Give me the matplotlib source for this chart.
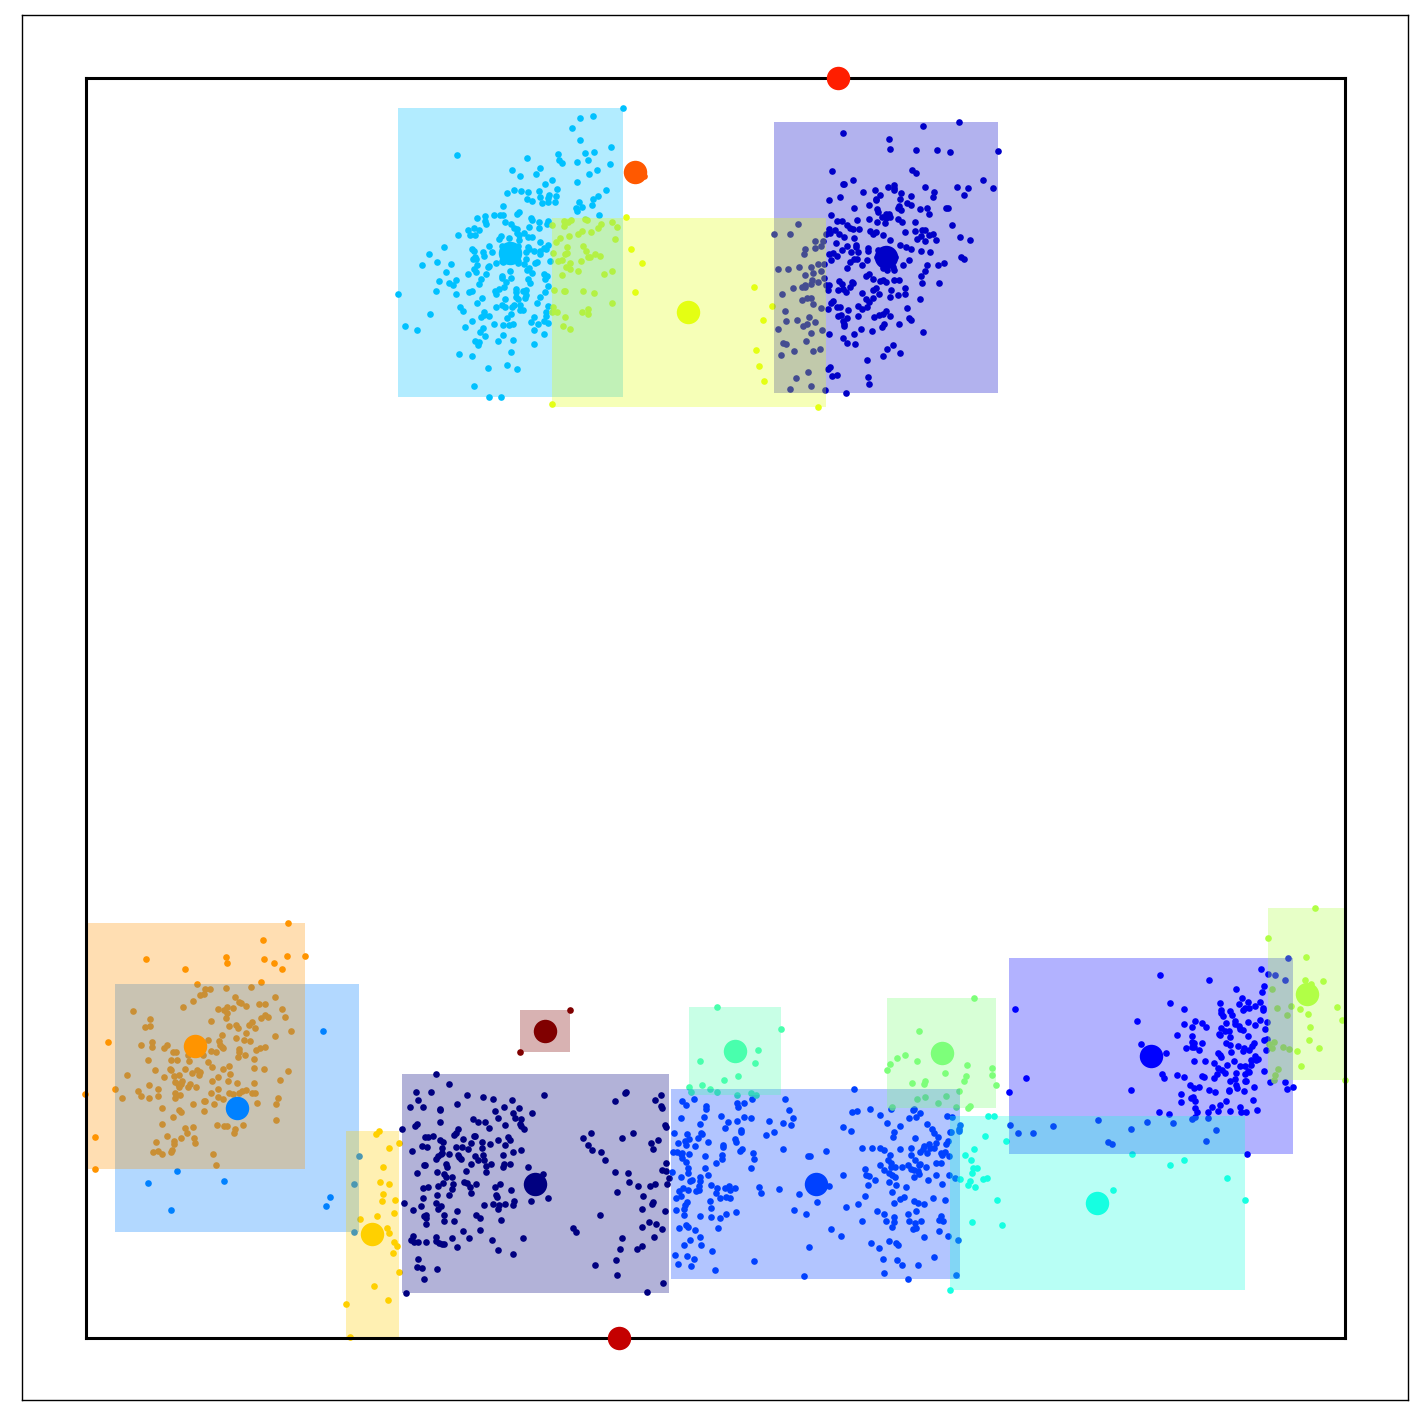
import numpy as np
import matplotlib
matplotlib.use("Agg")
import matplotlib.pyplot as plt
from matplotlib.patches import Rectangle

# point readings, grouped by the part of the picture they were read from (3x units)
pts_sky = [(700,40),(571,70),(610,64),(547,100),(571,136),(664,157),(202,181),(412,190),(505,178),(508,196),(517,205),(562,202),(586,175),(613,172),(595,196),(661,208),(622,226),(598,238),(367,226),(451,220),(439,238),(391,244),(487,256),(466,268),(562,262),(502,283),(448,289),(352,295),(373,286),(394,289),(415,292),(649,286),(625,304),(610,313),(451,307),(478,301),(499,304),(412,313),(427,319),(457,325),(475,310),(475,322),(496,322),(568,322),(607,331),(577,337),(559,340),(562,349),(340,334),(388,352),(382,358),(313,361),(331,361),(340,361),(286,364),(262,370),(286,379),(289,388),(424,370),(427,376),(346,382),(364,388),(448,382),(475,379),(472,388),(628,361),(418,397),(448,400),(253,400),(235,406),(268,406),(241,421),(256,421),(205,421),(373,400),(382,403),(382,415),(403,415),(388,421),(415,427),(427,427),(388,436),(334,424),(328,433),(358,430),(451,442),(298,454),(163,457),(475,451),(247,463),(253,469),(307,472),(280,472),(283,484),(433,469),(451,469),(451,478),(463,460),(469,463),(415,457),(418,463),(409,472),(118,478),(409,493),(481,499),(256,487),(250,493),(259,493),(142,502),(97,511),(184,508),(319,505),(340,502),(385,505),(403,508),(436,505),(442,502),(262,511),(298,514),(295,517),(253,523),(259,532),(418,520),(412,526),(427,535),(361,529),(169,532),(235,538),(289,538),(463,538),(472,544),(337,544),(337,550),(364,550),(415,553),(466,553),(274,553),(199,556),(148,559),(178,565),(190,571),(268,568),(349,562),(421,565),(343,577),(475,574),(328,583),(316,589),(319,598),(379,583),(379,590),(400,589),(409,586),(409,601),(466,592),(139,589),(238,592),(247,589),(199,598),(25,598),(406,610),(451,607),(277,610),(346,613),(379,607),(385,613),(262,625),(442,625),(337,631),(346,637),(319,637),(211,637),(220,649),(367,637),(373,631),(391,631),(391,646),(400,646),(475,634),(469,652),(469,664),(283,652),(283,661),(298,664),(274,667),(364,658),(352,670),(433,667),(121,658),(247,679),(424,682),(445,688),(463,679),(475,685),(313,688),(340,691),(358,691),(370,688),(226,697),(46,694),(82,706),(280,700),(271,712),(433,706),(463,718),(286,724),(340,721),(370,736),(325,739),(256,739),(268,742),(265,751),(433,748),(208,778),(247,784),(364,772),(295,820),(352,811),(382,823),(253,874),(298,907),(334,907),(337,453),(385,453),(337,497),(385,497)]
pts_yellow_a = [(709,367),(523,379),(544,376),(535,382),(523,394),(586,373),(592,376),(487,391),(634,388),(667,382),(682,397),(625,400),(577,409),(565,418),(604,412),(499,442),(511,430),(538,424),(676,433),(532,457),(580,454),(724,463),(589,469),(490,475),(532,475),(526,478),(616,478),(631,484),(595,487),(601,487),(505,499),(517,496),(574,499),(541,505),(529,517),(541,523),(565,529),(667,529),(517,541),(643,538),(493,586),(523,589),(526,589),(580,589),(613,595),(736,592),(667,625),(490,637),(487,652),(502,652),(595,643),(577,652),(595,658),(526,667),(520,694),(541,703),(487,926)]
pts_yellow_b = [(67,610),(403,682),(457,739),(430,781),(407,871),(418,919),(433,964),(595,1042)]
pts_deep = [(1018,187),(910,199),(670,220),(808,238),(811,268),(889,271),(952,271),(991,277),(1135,274),(877,331),(889,340),(637,334),(1090,361),(700,361),(670,373),(673,373),(805,382),(823,376),(823,385),(823,391),(916,382),(1012,382),(1045,385),(1120,385),(730,397),(766,391),(844,400),(943,397),(1033,406),(781,406),(769,418),(769,421),(628,421),(661,412),(841,418),(874,409),(940,412),(862,430),(874,436),(748,436),(838,439),(835,445),(844,451),(703,445),(772,448),(775,457),(901,448),(922,445),(928,463),(979,445),(985,445),(634,466),(787,472),(799,463),(808,463),(811,472),(799,475),(652,484),(667,484),(712,481),(748,478),(772,487),(796,490),(835,478),(847,487),(886,487),(997,496),(535,493),(682,496),(691,505),(700,508),(718,508),(628,508),(646,511),(463,523),(511,523),(619,523),(631,520),(658,523),(673,532),(703,535),(751,514),(760,523),(769,517),(790,526),(856,517),(886,514),(907,511),(916,511),(904,529),(892,538),(916,544),(928,526),(940,523),(949,541),(1021,532),(1051,541),(586,544),(610,544),(649,550),(811,541),(604,559),(586,565),(556,568),(553,583),(667,571),(682,559),(709,556),(709,562),(694,577),(715,577),(745,565),(745,574),(841,556),(859,562),(874,568),(904,574),(931,577),(628,583),(640,580),(634,601),(652,589),(712,598),(703,598),(691,607),(742,601),(1024,592),(1033,598),(868,601),(973,610),(955,616),(922,616),(850,616),(727,616),(595,613),(613,613),(682,625),(475,628),(505,628),(538,622),(574,622),(823,631),(604,634),(580,640),(556,646),(916,634),(904,649),(748,643),(739,649),(760,658),(613,655),(658,664),(667,673),(697,667),(700,670),(781,664),(790,661),(799,667),(823,661),(838,661),(907,670),(958,670),(595,667),(577,661),(574,673),(556,676),(547,682),(556,682),(520,685),(619,676),(628,676),(625,691),(655,691),(670,688),(679,697),(691,682),(769,685),(760,691),(814,691),(856,685),(487,703),(727,700),(778,703),(835,706),(856,703),(811,712),(547,721),(562,715),(574,715),(739,718),(760,715),(901,718),(640,724),(634,730),(580,733),(748,727),(604,745),(625,748),(652,742),(661,742),(715,739),(727,748),(685,751),(742,742),(862,745),(496,754),(799,754),(790,763),(778,766),(763,772),(655,769),(664,766),(682,775),(715,769),(811,769),(868,775),(874,781),(568,772),(532,781),(499,784),(586,787),(670,784),(673,793),(673,799),(562,793),(550,799),(838,793),(793,793),(787,802),(475,808),(607,811),(724,808),(757,814),(910,817),(574,820),(628,823),(703,823),(670,835),(559,844),(682,850),(706,853),(490,850),(499,853),(820,856),(802,868),(601,868),(580,874),(523,874),(841,880),(484,886),(790,889),(742,901),(631,922),(625,928),(565,937),(637,949),(652,946),(529,955),(745,952),(748,973),(574,979),(511,988),(616,991),(679,1000),(770,590),(825,590),(775,570),(820,620),(800,630),(790,625)]
pts_redorange = [(72,349),(50,335)]
pts_orange = [(625,25),(550,76),(199,133),(439,127),(442,145),(553,133),(622,124),(676,124),(583,145),(607,163),(316,163),(544,202),(352,208),(514,217),(439,220),(376,223),(391,223),(361,241),(373,238),(466,247),(586,247),(340,259),(478,262),(484,265),(499,274),(538,268),(556,268),(310,277),(415,283),(433,286),(442,277),(460,280),(607,283),(160,289),(442,295),(439,310),(544,310),(556,301),(565,307),(616,307),(211,313),(394,319),(517,322),(508,331),(196,337),(211,334),(448,334),(469,331),(475,340),(526,340),(634,349),(499,355),(427,361),(586,364),(469,370),(85,382),(385,376),(418,379),(493,376),(511,379),(217,382),(184,391),(217,397),(262,391),(253,400),(421,391),(427,397),(430,400),(556,397),(541,400),(529,406),(478,403),(478,412),(280,412),(289,412),(394,409),(409,412),(496,421),(475,427),(325,421),(370,421),(205,436),(274,436),(292,436),(328,439),(385,442),(523,433),(397,457),(448,454),(271,463),(274,466),(316,463),(226,466),(430,463),(523,460),(553,463),(625,469),(352,466),(361,472),(337,475),(358,481),(451,478),(142,481),(253,487),(283,484),(298,481),(415,487),(601,496),(286,502),(307,499),(397,499),(445,499),(472,505),(523,505),(208,511),(295,508),(304,508),(298,517),(331,508),(325,517),(349,517),(106,523),(235,523),(175,529),(415,523),(16,538),(499,526),(487,529),(478,535),(448,535),(460,538),(394,535),(286,535),(301,541),(517,535),(526,535),(184,544),(235,544),(208,550),(286,550),(415,547),(430,553),(127,550),(595,550),(373,559),(376,559),(340,568),(403,568),(532,565),(589,568),(247,580),(298,586),(304,592),(373,589),(280,607),(589,616),(247,628),(412,631),(433,634),(442,634),(490,631),(316,640),(340,637),(466,643),(463,655),(322,655),(262,664),(304,670),(343,670),(46,667),(229,682),(283,679),(283,688),(346,685),(220,712),(235,709),(247,718),(277,706),(274,712),(400,718),(409,751),(46,763)]
pts_azure = [(730,349),(838,724),(292,769),(433,799),(205,805),(823,808),(751,847),(739,874),(274,886),(823,952)]
pts_gold = [(898,649),(889,658),(958,685),(928,700),(910,757),(901,802),(928,808),(910,838),(907,859),(946,856),(943,895),(892,904),(841,913),(922,940),(928,955),(943,982),(952,994),(940,1015),(958,1072),(883,1114),(799,1168),(925,1156),(811,1267)]
pts_navy = [(124,223),(163,253),(64,277),(109,277),(217,286),(265,292),(295,298),(352,301),(448,286),(70,301),(46,322),(85,322),(136,328),(136,331),(187,313),(328,322),(373,325),(301,334),(355,340),(412,340),(310,355),(361,355),(379,358),(235,358),(250,367),(271,367),(136,367),(67,373),(61,379),(331,376),(376,373),(379,379),(388,388),(283,385),(22,388),(190,388),(184,400),(178,406),(115,409),(91,412),(100,412),(238,409),(241,409),(340,411),(205,418),(346,421),(310,421),(136,421),(145,427),(229,430),(262,427),(286,433),(331,436),(82,439),(97,442),(142,445),(184,442),(202,442),(220,448),(262,445),(52,454),(142,460),(355,457),(379,451),(139,463),(163,463),(130,469),(190,466),(241,469),(265,466),(325,466),(124,478),(193,472),(199,478),(250,481),(268,481),(88,496),(91,496),(154,493),(157,502),(229,493),(289,493),(274,499),(328,493),(325,502),(346,493),(400,502),(214,514),(274,517),(67,520),(127,517),(148,523),(154,532),(172,532),(445,523),(208,547),(217,550),(145,550),(175,553),(244,553),(226,562),(130,559),(85,565),(100,562),(172,568),(301,562),(316,553),(349,571),(127,586),(163,586),(229,580),(304,586),(307,592),(85,595),(460,595),(28,610),(124,610),(137,619),(79,619),(130,628),(268,616),(295,613),(313,616),(331,613),(355,616),(358,604),(409,604),(310,628),(55,631),(187,634),(88,649),(94,646),(148,646),(94,655),(244,646),(256,655),(148,664),(178,664),(319,661),(94,673),(205,694),(256,691),(55,709),(49,721),(58,727),(70,727),(94,727),(124,712),(124,724),(133,730),(142,733),(148,733),(172,715),(223,715),(292,721),(385,715),(187,742),(310,751),(355,763),(70,778),(67,802),(82,805),(127,808),(88,838),(34,880),(694,277),(691,280),(661,304),(799,286),(781,301),(799,319),(802,325),(811,376),(814,382),(589,400),(565,415),(715,400),(682,415),(790,421),(769,430),(580,436),(592,451),(775,448),(619,457),(631,481),(814,490),(802,511),(814,514),(661,517),(700,520),(823,535),(703,547),(730,559),(766,559),(781,553),(817,553),(667,577),(745,589),(775,607),(772,613),(742,628),(811,634),(616,646),(763,667),(784,673),(742,682),(802,688),(535,685),(544,697),(778,712),(682,715),(742,739),(727,748),(676,748),(664,781),(601,796),(667,826),(805,850),(757,877)]
pts_maroon = [(526,31),(376,157)]
pts_cobalt = [(568,298),(88,328),(52,334),(64,346),(122,349),(122,358),(217,340),(220,352),(238,340),(262,328),(361,328),(373,361),(616,358),(562,367),(577,364),(646,376),(169,379),(118,382),(49,385),(238,382),(259,385),(385,385),(190,397),(217,394),(313,394),(355,400),(379,406),(106,403),(181,415),(535,412),(559,424),(667,400),(706,409),(679,358),(748,358),(745,361),(766,370),(754,382),(733,385),(847,379),(862,382),(787,403),(802,418),(808,430),(820,442),(885,406),(883,418),(883,424),(856,427),(859,427),(229,421),(229,427),(328,427),(304,436),(688,427),(685,442),(751,445),(28,430),(67,433),(109,430),(112,433),(100,445),(73,448),(61,454),(40,460),(64,466),(91,469),(130,457),(211,448),(214,457),(175,466),(175,472),(355,478),(592,475),(622,475),(646,475),(658,481),(706,478),(739,475),(778,469),(775,478),(793,463),(796,475),(808,475),(814,460),(850,454),(844,463),(766,487),(787,490),(739,496),(676,496),(484,484),(25,487),(37,487),(52,490),(49,493),(73,493),(52,505),(121,499),(172,496),(172,508),(232,478),(226,484),(265,490),(268,508),(430,499),(436,499),(829,490),(832,496),(841,487),(853,499),(64,517),(154,520),(751,511),(670,511),(679,520),(646,526),(679,532),(691,532),(712,532),(730,526),(763,526),(766,523),(784,532),(814,520),(829,520),(70,535),(121,535),(259,535),(601,538),(658,541),(739,538),(748,541),(22,547),(70,550),(130,556),(49,562),(106,562),(604,556),(613,559),(535,556),(673,550),(682,556),(691,562),(760,544),(763,553),(748,562),(814,556),(853,556),(869,565),(76,574),(82,571),(106,574),(631,571),(673,577),(790,571),(139,586),(610,586),(694,586),(724,592),(832,583),(493,589),(55,595),(43,604),(70,601),(94,604),(103,589),(103,601),(157,595),(154,610),(181,595),(193,589),(196,601),(211,595),(283,592),(343,598),(289,610),(403,613),(682,607),(49,619),(34,625),(166,625),(184,622),(196,625),(601,619),(706,628),(718,622),(136,634),(457,637),(67,637),(61,646),(748,634),(760,640),(778,643),(805,625),(841,631),(688,640),(580,643),(58,658),(34,661),(139,655),(544,652),(388,661),(637,664),(754,664),(214,667),(184,673),(424,673),(58,676),(106,679),(139,682),(166,685),(658,673),(688,682),(730,673),(829,679),(688,697),(664,694),(592,694),(733,694),(769,694),(751,700),(823,691),(835,694),(64,706),(70,712),(43,715),(160,715),(91,721),(499,718),(682,712),(745,718),(754,715),(823,724),(106,742),(529,739),(850,739),(778,742),(880,751),(76,751),(58,766),(109,766),(619,760),(673,754),(694,760),(700,766),(433,772),(643,775),(142,784),(31,796),(67,799),(88,808),(655,808),(697,811),(808,802),(268,814),(40,823),(79,829),(712,826),(760,826),(151,841),(658,850),(874,856),(418,859),(730,868)]
pts_mint = [(157,52),(349,118),(280,181),(106,214),(271,220),(220,259),(178,271),(112,286),(73,292),(136,298),(157,307),(79,307),(259,310),(274,316),(217,316)]
pts_green_a = [(763,124),(721,196),(697,205),(676,223),(667,241),(757,214),(841,250),(742,280),(781,274),(778,283),(883,304),(757,328),(781,322),(844,319),(820,340),(682,352),(874,352)]
pts_green_b = [(88,295),(67,496),(142,505),(142,526),(64,529),(58,544),(154,556),(76,617),(70,625)]
pts_blue = [(646,226),(793,241),(949,208),(970,223),(991,226),(1021,241),(1030,175),(958,259),(874,268),(952,277),(211,328),(676,310),(718,328),(826,310),(892,295),(883,313),(909,307),(946,307),(931,319),(955,325),(955,331),(829,331),(829,340),(835,349),(856,334),(862,346),(895,331),(901,325),(913,325),(577,364),(718,373),(751,364),(772,370),(742,382),(784,382),(844,370),(871,364),(871,373),(910,367),(931,376),(946,361),(967,367),(829,385),(841,394),(853,394),(883,379),(886,388),(895,391),(961,388),(697,406),(742,409),(823,403),(826,406),(856,412),(910,409),(958,421),(967,418),(742,427),(748,430),(772,430),(844,430),(856,436),(880,439),(928,430),(922,439),(589,433),(724,445),(742,442),(748,442),(763,451),(898,445),(895,454),(913,451),(964,451),(664,460),(859,457),(820,460),(826,466),(829,472),(931,469),(940,478),(934,481),(919,481),(748,484),(781,484),(808,490),(868,484),(847,496),(886,499),(901,499),(919,496),(820,505),(832,511),(841,520),(910,514),(913,517),(901,523),(874,520),(958,514),(652,523),(658,535),(697,526),(718,532),(772,529),(778,532),(817,523),(808,535),(871,538),(856,544),(901,544),(904,544),(736,556),(874,556),(748,565),(763,562),(877,565),(928,562),(976,547),(1021,547),(1045,562),(1027,568),(559,571),(793,571),(811,577),(853,571),(853,574),(898,574),(244,535),(193,577),(709,583),(739,595),(745,592),(751,604),(709,607),(844,604),(925,601),(826,616),(751,625),(802,622),(886,622),(937,631),(757,637),(643,637),(673,643),(790,637),(820,634),(856,634),(889,637),(904,637),(751,652),(742,658),(790,655),(460,661),(196,676),(325,679),(559,688),(607,667),(685,670),(814,691),(220,700),(265,700),(784,724),(490,727),(502,733),(907,763)]
pts_cyan = [(130,649),(148,649),(121,709),(184,724),(88,748),(61,766),(79,781),(97,804),(85,805),(82,820),(46,838),(115,838),(127,835),(76,844),(70,856),(91,862),(157,901),(82,967),(172,976),(562,763),(676,796),(718,781),(847,835),(505,871),(901,901),(16,1170)]
pts_lime = [(1111,25),(970,115),(1084,172),(1081,241),(1099,253),(1135,244),(982,268),(997,325),(1039,319),(1066,328),(1027,346),(1090,343),(1177,322),(1192,361),(1096,382),(1093,421),(988,427),(973,433),(982,445),(1015,442),(1033,448),(1057,454),(1123,445),(1069,499),(1000,508),(991,526),(988,541),(1201,541)]

# cluster centres and bounding boxes, in jet colour order
center_x = [535.5, 886.5, 1151.5, 816.5, 237.5, 510.5, 1097.5, 735.5, 942.5, 1307.5, 688.5, 372.5, 195.5, 635.5, 838.5, 619.5, 545.5]
center_y = [1184.5, 257.5, 1056.5, 1184.5, 1108.5, 253.5, 1203.5, 1051.5, 1053.5, 994.5, 312.5, 1234.5, 1046.5, 172.5, 78.5, 1338.5, 1031.5]
box_left = [402, 774, 1009, 671, 115, 398, 950, 689, 887, 1268, 552, 346, 86, 631, 838, 619, 520]
box_right = [669, 998, 1293, 960, 359, 623, 1245, 781, 996, 1345, 826, 399, 305, 646, 838, 619, 570]
box_top = [1074, 122, 958, 1089, 984, 108, 1116, 1007, 998, 908, 218, 1131, 923, 170, 78, 1338, 1010]
box_bottom = [1293, 393, 1154, 1279, 1232, 397, 1290, 1095, 1108, 1080, 407, 1338, 1169, 177, 78, 1338, 1052]


def place(pts, left, top):
    arr = np.array(pts, dtype=float)
    return np.column_stack([left + arr[:, 0] / 3, top + arr[:, 1] / 3])


clusters = [
    place(pts_navy, 395, 1000),
    place(pts_deep, 620, 60),
    place(pts_blue, 945, 900),
    place(pts_cobalt, 665, 990),
    place(pts_azure, 80, 915),
    place(pts_sky, 390, 95),
    place(pts_cyan, 945, 900),
    place(pts_mint, 665, 990),
    np.vstack([place(pts_green_a, 665, 990), place(pts_green_b, 945, 900)]),
    place(pts_lime, 945, 900),
    np.vstack([place(pts_yellow_a, 390, 95), place(pts_yellow_b, 620, 60)]),
    place(pts_gold, 80, 915),
    place(pts_orange, 80, 915),
    place(pts_redorange, 620, 60),
    None,
    None,
    place(pts_maroon, 395, 1000),
]
colors = plt.cm.jet(np.linspace(0, 1, len(clusters)))

W = 1423
fig = plt.figure(figsize=(W / 100, W / 100), dpi=100)

outer = fig.add_axes([22 / W, (W - 1400) / W, (1408 - 22) / W, (1400 - 15) / W])
outer.set_xticks([])
outer.set_yticks([])
for s in outer.spines.values():
    s.set_linewidth(1.0)

ax = fig.add_axes([85.5 / W, (W - 1338) / W, (1345 - 85.5) / W, (1338 - 78) / W])
ax.patch.set_alpha(0)
ax.set_xlim(85.5, 1345)
ax.set_ylim(1338, 78)
ax.set_xticks([])
ax.set_yticks([])
for s in ax.spines.values():
    s.set_linewidth(2.2)
    s.set_zorder(4)

for pts, c in zip(clusters, colors):
    if pts is not None:
        ax.scatter(pts[:, 0], pts[:, 1], s=23, color=c, linewidths=0, zorder=2, clip_on=False)

for i, c in enumerate(colors):
    ax.add_patch(Rectangle((box_left[i], box_top[i]), box_right[i] - box_left[i],
                           box_bottom[i] - box_top[i], facecolor=c, edgecolor="none",
                           alpha=0.3, zorder=3))

ax.scatter(center_x, center_y, s=285, c=colors, linewidths=0, zorder=5, clip_on=False)

fig.savefig("out.png", dpi=100)
